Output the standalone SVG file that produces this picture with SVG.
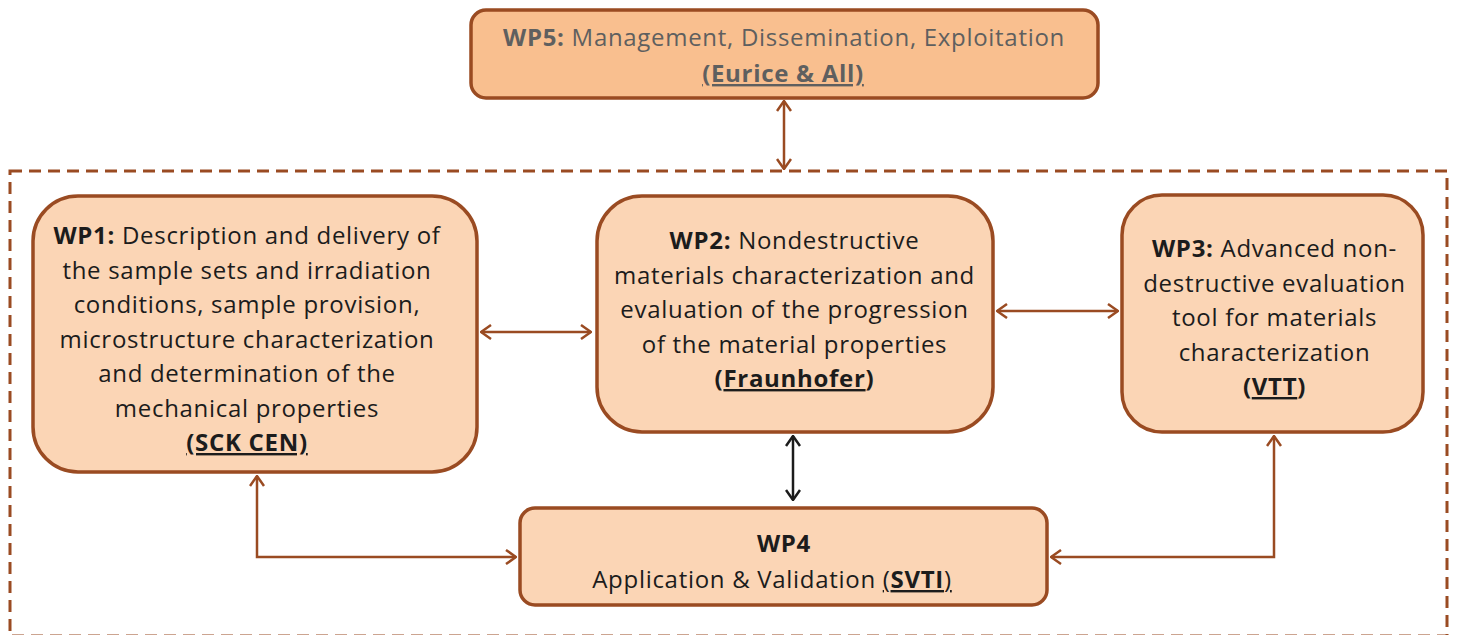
<svg xmlns="http://www.w3.org/2000/svg" width="1458" height="635" viewBox="0 0 1458 635">
<style>
.box{fill:#FBD5B5;stroke:#9A4B22;stroke-width:3.5}
.box5{fill:#F9BF8F;stroke:#9A4B22;stroke-width:3.5}
.t{font-family:"Open Sans","Noto Sans",sans-serif;font-size:24px;letter-spacing:0.7px;fill:#1c1c1c;text-anchor:middle}
.g{fill:#5f5f5f}
.b{font-weight:bold}
.u{text-decoration:underline}
.c{fill:none;stroke:#9A4B22;stroke-width:2.5}
.k{fill:none;stroke:#1c1c1c;stroke-width:2.5}
</style>
<defs>
<marker id="ab" viewBox="0 0 12 16" refX="11" refY="8" markerWidth="12" markerHeight="16" markerUnits="userSpaceOnUse" orient="auto-start-reverse">
<path d="M1,1 L11,8 L1,15" fill="none" stroke="#9A4B22" stroke-width="2.5"/>
</marker>
<marker id="ak" viewBox="0 0 12 16" refX="11" refY="8" markerWidth="12" markerHeight="16" markerUnits="userSpaceOnUse" orient="auto-start-reverse">
<path d="M1,1 L11,8 L1,15" fill="none" stroke="#1c1c1c" stroke-width="2.5"/>
</marker>
</defs>
<rect x="10" y="171" width="1437" height="465" fill="none" stroke="#9A4B22" stroke-width="3" stroke-dasharray="12 7"/>
<g id="connectors">
<path class="c" d="M784,101 L784,169" marker-start="url(#ab)" marker-end="url(#ab)"/>
<path class="c" d="M481,332 L591,332" marker-start="url(#ab)" marker-end="url(#ab)"/>
<path class="c" d="M997,311 L1118,311" marker-start="url(#ab)" marker-end="url(#ab)"/>
<path class="k" d="M793,436 L793,500" marker-start="url(#ak)" marker-end="url(#ak)"/>
<path class="c" d="M257,476 L257,557 L516,557" marker-start="url(#ab)" marker-end="url(#ab)"/>
<path class="c" d="M1274,436 L1274,557 L1051,557" marker-start="url(#ab)" marker-end="url(#ab)"/>
</g>
<g id="wp5">
<rect class="box5" x="471" y="10" width="627" height="88" rx="15"/>
<text class="t g" x="784" y="46"><tspan class="b">WP5:</tspan> Management, Dissemination, Exploitation</text>
<text class="t g b" x="783" y="82"><tspan class="u">(Eurice &amp; All)</tspan></text>
</g>
<g id="wp1">
<rect class="box" x="33" y="196" width="444" height="276" rx="45"/>
<text class="t" x="247" y="244"><tspan class="b">WP1:</tspan> Description and delivery of</text>
<text class="t" x="247" y="278.5">the sample sets and irradiation</text>
<text class="t" x="247" y="313">conditions, sample provision,</text>
<text class="t" x="247" y="347.5">microstructure characterization</text>
<text class="t" x="247" y="382">and determination of the</text>
<text class="t" x="247" y="416.5">mechanical properties</text>
<text class="t b" x="247" y="451"><tspan class="u">(SCK CEN)</tspan></text>
</g>
<g id="wp2">
<rect class="box" x="597" y="196" width="396" height="236" rx="45"/>
<text class="t" x="794.5" y="249"><tspan class="b">WP2:</tspan> Nondestructive</text>
<text class="t" x="794.5" y="283.5">materials characterization and</text>
<text class="t" x="794.5" y="318">evaluation of the progression</text>
<text class="t" x="794.5" y="352.5">of the material properties</text>
<text class="t b" x="794.5" y="387">(<tspan class="u">Fraunhofer</tspan>)</text>
</g>
<g id="wp3">
<rect class="box" x="1122" y="195" width="301" height="237" rx="40"/>
<text class="t" x="1274.5" y="257"><tspan class="b">WP3:</tspan> Advanced non-</text>
<text class="t" x="1274.5" y="291.5">destructive evaluation</text>
<text class="t" x="1274.5" y="326">tool for materials</text>
<text class="t" x="1274.5" y="360.5">characterization</text>
<text class="t b" x="1274.5" y="395">(<tspan class="u">VTT</tspan>)</text>
</g>
<g id="wp4">
<rect class="box" x="520" y="508" width="527" height="97" rx="15"/>
<text class="t b" x="784" y="552">WP4</text>
<text class="t" x="772" y="588">Application &amp; Validation <tspan class="u">(<tspan class="b">SVTI</tspan>)</tspan></text>
</g>
</svg>
